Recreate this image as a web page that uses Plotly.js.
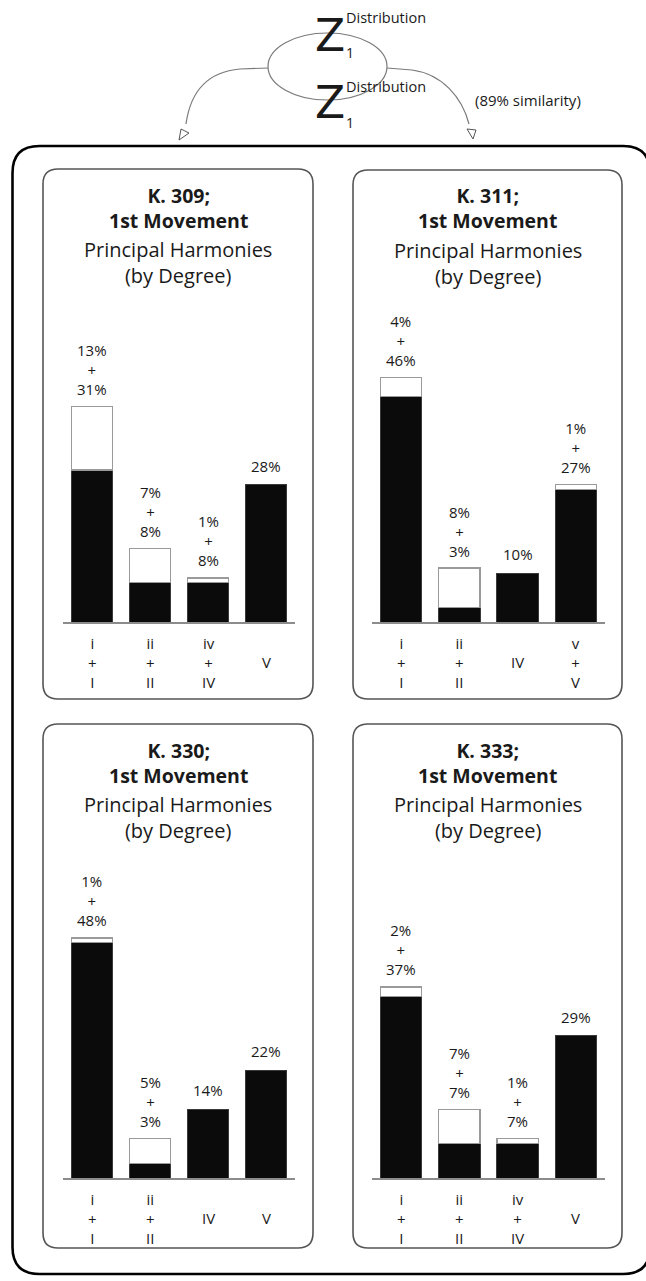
<!DOCTYPE html>
<html><head><meta charset="utf-8">
<script src="https://cdn.plot.ly/plotly-3.0.1.min.js"></script>
<style>html,body{margin:0;padding:0;background:#fff}</style>
</head><body><div id="chart" style="width:646px;height:1281px"></div>
<script>
// ---- data ----
const pieces = ["K. 309;", "K. 311;", "K. 330;", "K. 333;"];
const movement = "1st Movement";
const subtitleLines = ["Principal Harmonies", "(by Degree)"];

const cats309 = ["i+I", "ii+II", "iv+IV", "V"];
const cats311 = ["i+I", "ii+II", "IV", "v+V"];
const cats330 = ["i+I", "ii+II", "IV", "V"];
const cats333 = ["i+I", "ii+II", "iv+IV", "V"];

const deg309 = [["i","+","I"], ["ii","+","II"], ["iv","+","IV"], ["V"]];
const deg311 = [["i","+","I"], ["ii","+","II"], ["IV"], ["v","+","V"]];
const deg330 = [["i","+","I"], ["ii","+","II"], ["IV"], ["V"]];
const deg333 = [["i","+","I"], ["ii","+","II"], ["iv","+","IV"], ["V"]];

// black = main share, white = added share (percent)
const major309 = [31, 8, 8, 28];
const minor309 = [13, 7, 1, 0];
const major311 = [46, 3, 10, 27];
const minor311 = [4, 8, 0, 1];
const major330 = [48, 3, 14, 22];
const minor330 = [1, 5, 0, 0];
const major333 = [37, 7, 7, 29];
const minor333 = [2, 7, 1, 0];

const distLabel = "Distribution";
const zLabel = "Z";
const zSub = "1";
const similarity = "(89% similarity)";

// ---- layout helpers ----
const W = 646, H = 1281;
const X = x => x / W;
const Y = y => 1 - y / H;
const FONT = "Open Sans";
const INK = "#1a1a1a";

const panels = [
  {cats: cats309, deg: deg309, major: major309, minor: minor309},
  {cats: cats311, deg: deg311, major: major311, minor: minor311},
  {cats: cats330, deg: deg330, major: major330, minor: minor330},
  {cats: cats333, deg: deg333, major: major333, minor: minor333}
];
const boxes = [[43,169,313,699],[353,170,622,699],[43,724,313,1248],[353,724,622,1248]];
const plotX = [[63,295],[372,605],[63,295],[372,605]];
const baseY = [622, 622, 1178, 1178];
const YMAX = 50, PXPER = 4.9;

const traces = [], annotations = [], shapes = [];
const layout = {
  width: W, height: H, margin: {l:0, r:0, t:0, b:0},
  paper_bgcolor: "#fff", plot_bgcolor: "rgba(0,0,0,0)",
  showlegend: false, barmode: "stack", bargap: 0.29,
  font: {family: FONT, color: INK}
};

function rr(x0, y0, x1, y1, r) {
  const p = (x, y) => X(x) + "," + Y(y);
  return "M" + p(x0 + r, y0) + " L" + p(x1 - r, y0) + " Q" + p(x1, y0) + " " + p(x1, y0 + r) +
    " L" + p(x1, y1 - r) + " Q" + p(x1, y1) + " " + p(x1 - r, y1) +
    " L" + p(x0 + r, y1) + " Q" + p(x0, y1) + " " + p(x0, y1 - r) +
    " L" + p(x0, y0 + r) + " Q" + p(x0, y0) + " " + p(x0 + r, y0) + " Z";
}

panels.forEach((pn, i) => {
  const n = i + 1;
  const xa = "x" + (n === 1 ? "" : n), ya = "y" + (n === 1 ? "" : n);
  const xk = "xaxis" + (n === 1 ? "" : n), yk = "yaxis" + (n === 1 ? "" : n);
  layout[xk] = {
    domain: [X(plotX[i][0]), X(plotX[i][1])], anchor: ya, type: "category",
    range: [-0.5, 3.5], showline: true, linecolor: "#8c8c8c", linewidth: 1.6,
    showticklabels: false, ticks: "", showgrid: false, zeroline: false, fixedrange: true
  };
  layout[yk] = {
    domain: [Y(baseY[i]), Y(baseY[i] - YMAX * PXPER)], anchor: xa,
    range: [0, YMAX], visible: false, fixedrange: true
  };
  traces.push({
    type: "bar", x: pn.cats, y: pn.major, xaxis: xa, yaxis: ya,
    marker: {color: "#0b0b0b", line: {color: "#3a3a3a", width: 1}},
    hoverinfo: "skip"
  });
  traces.push({
    type: "bar", x: pn.cats, y: pn.minor.map(v => v === 0 ? null : v), xaxis: xa, yaxis: ya,
    marker: {color: "#ffffff", line: {color: "#9a9a9a", width: 1.3}},
    hoverinfo: "skip"
  });
  pn.cats.forEach((c, k) => {
    const total = pn.major[k] + pn.minor[k];
    const lines = pn.minor[k] === 0 ? [pn.major[k] + "%"] : [pn.minor[k] + "%", "+", pn.major[k] + "%"];
    annotations.push({
      xref: xa, yref: ya, x: c, y: total, text: lines.join("<br>"), showarrow: false,
      yanchor: "middle", yshift: lines.length === 1 ? 19 : 37,
      font: {size: 15, family: FONT, color: INK}
    });
    const d = pn.deg[k];
    annotations.push({
      xref: xa, yref: ya, x: c, y: 0, text: d.join("<br>"), showarrow: false,
      yanchor: "middle", yshift: -40, font: {size: 15, family: FONT, color: INK}
    });
  });
  const b = boxes[i];
  const cx = (b[0] + b[2]) / 2, ty = b[1];
  annotations.push({
    xref: "paper", yref: "paper", x: X(cx), y: Y(ty + 38.5), text: pieces[i] + "<br>" + movement,
    showarrow: false, xanchor: "center", yanchor: "middle",
    font: {size: 19.5, family: FONT, color: INK, weight: "bold"}
  });
  annotations.push({
    xref: "paper", yref: "paper", x: X(cx), y: Y(ty + 93), text: subtitleLines.join("<br>"),
    showarrow: false, xanchor: "center", yanchor: "middle",
    font: {size: 20, family: FONT, color: INK}
  });
  shapes.push({type: "path", xref: "paper", yref: "paper", path: rr(b[0], b[1], b[2], b[3], 15),
    line: {color: "#555", width: 1.6}});
});

shapes.push({type: "path", xref: "paper", yref: "paper", path: rr(12.5, 146, 650, 1274, 27),
  line: {color: "#000", width: 2.6}});

shapes.push({type: "circle", xref: "paper", yref: "paper", x0: X(268), x1: X(387), y0: Y(100), y1: Y(33),
  line: {color: "#7a7a7a", width: 1.2}});
const pp = (x, y) => X(x) + "," + Y(y);
shapes.push({type: "path", xref: "paper", yref: "paper",
  path: "M" + pp(268, 68) + " L" + pp(240, 69) + " C" + pp(205, 72) + " " + pp(190, 95) + " " + pp(186, 124),
  line: {color: "#7a7a7a", width: 1.2}});
shapes.push({type: "path", xref: "paper", yref: "paper",
  path: "M" + pp(387, 68) + " L" + pp(412, 70) + " C" + pp(442, 74) + " " + pp(462, 97) + " " + pp(469, 124),
  line: {color: "#7a7a7a", width: 1.2}});
shapes.push({type: "path", xref: "paper", yref: "paper",
  path: "M" + pp(179, 140) + " L" + pp(181, 129) + " L" + pp(189, 133) + " Z",
  line: {color: "#555", width: 1}, fillcolor: "#fff"});
shapes.push({type: "path", xref: "paper", yref: "paper",
  path: "M" + pp(467, 129) + " L" + pp(476, 130) + " L" + pp(473, 139) + " Z",
  line: {color: "#555", width: 1}, fillcolor: "#fff"});

[[35, 17, 52], [103, 87, 122]].forEach(r => {
  annotations.push({xref: "paper", yref: "paper", x: X(330), y: Y(r[0]), text: zLabel, showarrow: false,
    xanchor: "center", yanchor: "middle", font: {size: 44, family: "DejaVu Sans", color: INK}});
  annotations.push({xref: "paper", yref: "paper", x: X(344), y: Y(r[1]), text: distLabel, showarrow: false,
    xanchor: "left", yanchor: "middle", font: {size: 14.5, family: FONT, color: INK}});
  annotations.push({xref: "paper", yref: "paper", x: X(344), y: Y(r[2]), text: zSub, showarrow: false,
    xanchor: "left", yanchor: "middle", font: {size: 14, family: FONT, color: INK}});
});
annotations.push({xref: "paper", yref: "paper", x: X(528), y: Y(100), text: similarity, showarrow: false,
  xanchor: "center", yanchor: "middle", font: {size: 15, family: FONT, color: INK}});

layout.annotations = annotations;
layout.shapes = shapes;
Plotly.newPlot("chart", traces, layout, {staticPlot: true, displayModeBar: false});
</script></body></html>
